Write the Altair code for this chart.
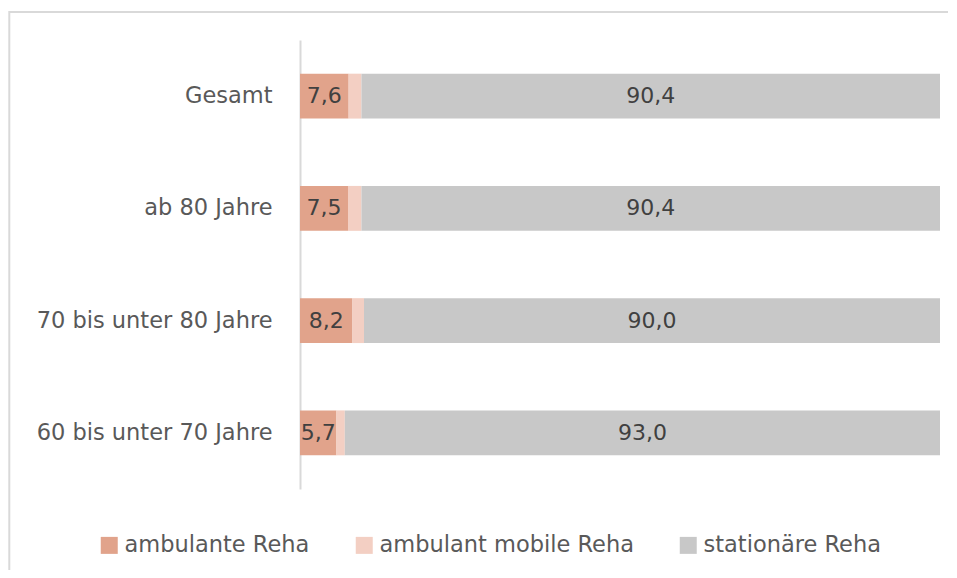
import altair as alt
import pandas as pd

categories = ["Gesamt", "ab 80 Jahre", "70 bis unter 80 Jahre", "60 bis unter 70 Jahre"]
series = ["ambulante Reha", "ambulant mobile Reha", "stationäre Reha"]
ambulant = [7.6, 7.5, 8.2, 5.7]
mobil = [2.0, 2.1, 1.8, 1.3]
stationaer = [90.4, 90.4, 90.0, 93.0]
colors = ["#E1A38B", "#F3CFC3", "#C8C8C8"]
labelled = ["ambulante Reha", "stationäre Reha"]

rows = []
for si, (name, vals) in enumerate(zip(series, [ambulant, mobil, stationaer])):
    for c, v in zip(categories, vals):
        rows.append({"cat": c, "series": name, "idx": si, "value": v})
df = pd.DataFrame(rows)

FONT = "DejaVu Sans"

base = alt.Chart(df).transform_stack(
    stack="value", groupby=["cat"], as_=["x0", "x1"], sort=[alt.SortField("idx", order="ascending")]
).transform_calculate(
    mid="(datum.x0 + datum.x1) / 2",
    lab="replace(format(datum.value, '.1f'), '.', ',')",
)

yenc = alt.Y(
    "cat:N",
    sort=categories,
    scale=alt.Scale(paddingInner=0.6, paddingOuter=0.3),
    axis=alt.Axis(
        title=None, ticks=False, labelPadding=28, labelFontSize=22.5, labelFont=FONT,
        labelColor="#595959", domainColor="#D9D9D9", domainWidth=2, labelLimit=400,
    ),
)
xscale = alt.Scale(domain=[0, 100], nice=False, zero=True)

bars = base.mark_bar().encode(
    y=yenc,
    x=alt.X("x0:Q", scale=xscale, axis=None),
    x2="x1:Q",
    color=alt.Color(
        "series:N",
        scale=alt.Scale(domain=series, range=colors),
        legend=alt.Legend(
            title=None, orient="none", direction="horizontal", legendX=-202, legendY=494,
            symbolType="square", symbolSize=289, symbolStrokeWidth=0, labelFontSize=22.5,
            labelFont=FONT, labelColor="#595959", labelOffset=4, columnPadding=43, padding=0,
            labelLimit=400,
        ),
    ),
)

texts = base.transform_filter(
    alt.FieldOneOfPredicate(field="series", oneOf=labelled)
).mark_text(fontSize=22, font=FONT, color="#404040", baseline="middle", align="center").encode(
    y=alt.Y("cat:N", sort=categories),
    x=alt.X("mid:Q", scale=xscale, axis=None),
    text="lab:N",
)

frame = alt.Chart(pd.DataFrame({"k": [0]})).mark_rect(
    filled=False, stroke="#D9D9D9", strokeWidth=2
).encode(
    x=alt.value(-290.7), x2=alt.value(720), y=alt.value(-28), y2=alt.value(620)
)

chart = alt.layer(frame, bars, texts).properties(
    width=640, height=449,
    autosize=alt.AutoSizeParams(type="none"),
    padding={"left": 292, "top": 32, "right": 8, "bottom": 81},
).configure_view(stroke=None)

chart.save("out.html", embed_options={"renderer": "svg", "actions": False})
